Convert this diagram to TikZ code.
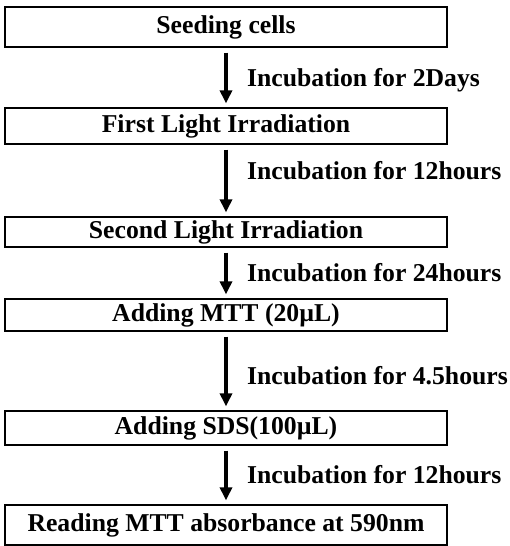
\documentclass[tikz,border=0pt]{standalone}
\usepackage{fontspec}
\setmainfont{Liberation Serif}
\usetikzlibrary{arrows.meta}

\tikzset{
  stepbox/.style={draw, line width=1.3pt, rectangle, inner sep=0pt,
    minimum width=442pt, font=\fontsize{25.7}{30}\selectfont\bfseries,
    text height=17pt, text depth=5pt},
  flow/.style={line width=3.2pt, -{Triangle[width=12pt,length=13pt]},
    shorten <=5pt, shorten >=4pt},
  lbl/.style={anchor=west, inner sep=0pt, font=\fontsize{25.7}{30}\selectfont\bfseries,
    text height=17pt, text depth=5pt}
}

\begin{document}
\begin{tikzpicture}[x=1pt, y=-1pt]
  \useasboundingbox[fill=white] (0,0) rectangle (510,546);

  % process steps
  \node[stepbox, minimum height=40pt] (s1) at (226,27)  {Seeding cells};
  \node[stepbox, minimum height=36pt] (s2) at (226,126) {First Light Irradiation};
  \node[stepbox, minimum height=30pt] (s3) at (226,232) {Second Light Irradiation};
  \node[stepbox, minimum height=32pt] (s4) at (226,315) {Adding MTT (20µL)};
  \node[stepbox, minimum height=34pt] (s5) at (226,428) {Adding SDS(100µL)};
  \node[stepbox, minimum height=40pt] (s6) at (226,525) {Reading MTT absorbance at 590nm};

  % transitions between steps
  \draw[flow] (s1) -- (s2);
  \draw[flow] (s2) -- (s3);
  \draw[flow] (s3) -- (s4);
  \draw[flow] (s4) -- (s5);
  \draw[flow] (s5) -- (s6);

  % incubation times
  \node[lbl] (l1) at (247,80)  {Incubation for 2Days};
  \node[lbl] (l2) at (247,173) {Incubation for 12hours};
  \node[lbl] (l3) at (247,275) {Incubation for 24hours};
  \node[lbl] (l4) at (247,378) {Incubation for 4.5hours};
  \node[lbl] (l5) at (247,477) {Incubation for 12hours};
\end{tikzpicture}
\end{document}
